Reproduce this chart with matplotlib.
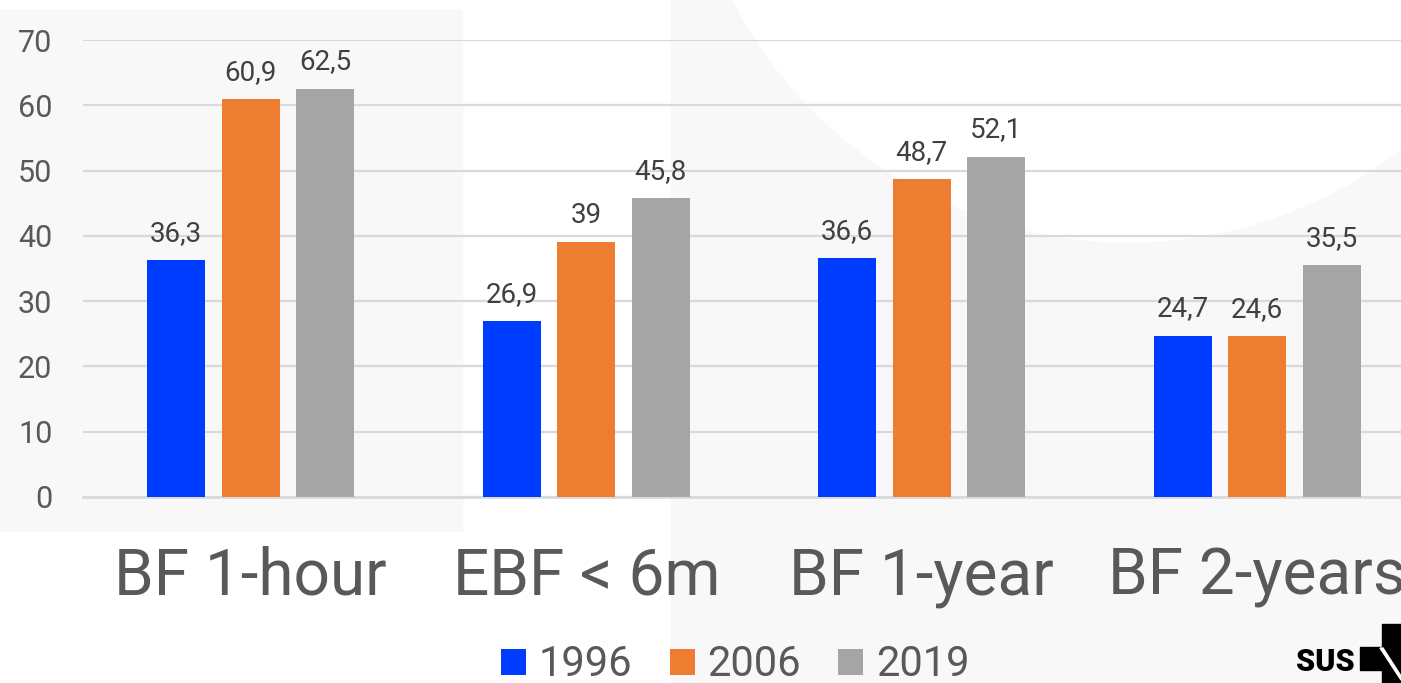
import matplotlib
matplotlib.use("Agg")
from matplotlib import pyplot as plt
from matplotlib.patches import Rectangle, Circle, Polygon
import numpy as np

categories = ['BF 1-hour', 'EBF < 6m', 'BF 1-year', 'BF 2-years']
years = ['1996', '2006', '2019']
values_1996 = [36.3, 26.9, 36.6, 24.7]
values_2006 = [60.9, 39.0, 48.7, 24.6]
values_2019 = [62.5, 45.8, 52.1, 35.5]
yticks = [0, 10, 20, 30, 40, 50, 60, 70]

colors = ['#003cff', '#ed7d31', '#a5a5a5']
series = [values_1996, values_2006, values_2019]

plt.rcParams['font.family'] = ['Roboto', 'DejaVu Sans']

W, H = 1401, 683
fig = plt.figure(figsize=(W / 100, H / 100), dpi=100)
fig.patch.set_facecolor('white')

# background decoration (pixel coords -> figure fraction)
def fx(px):
    return px / W

def fy(py):
    return 1 - py / H

bg = '#f8f8f8'
fig.patches.append(Rectangle((fx(0), fy(531)), fx(462), fy(10) - fy(531),
                             transform=fig.transFigure, color=bg, zorder=-10))
fig.patches.append(Rectangle((fx(671), 0), 1 - fx(671), 1,
                             transform=fig.transFigure, color=bg, zorder=-10))
# white circle (drawn in pixel space to stay round)
circ = Circle((1129, H - (-203)), 445, transform=None, color='white', zorder=-9)
fig.patches.append(circ)

ax = fig.add_axes([fx(83), fy(497), (1425 - 83) / W, fy(40) - fy(497)])
ax.set_facecolor('none')

x = np.arange(len(categories))
step = 0.222
width = 0.173
for i, (vals, col, yr) in enumerate(zip(series, colors, years)):
    pos = x + (i - 1) * step
    ax.bar(pos, vals, width, color=col, label=yr, zorder=3)
    for p, v in zip(pos, vals):
        txt = ('%g' % v).replace('.', ',')
        ax.annotate(txt, (p, v), xytext=(0, 14), textcoords='offset points',
                    ha='center', va='baseline', fontsize=20, color='#404040')

ax.set_xlim(-0.5, 3.5)
ax.set_ylim(0, 70)
ax.set_yticks(yticks)
ax.set_xticks(x)
ax.set_xticklabels(categories, fontsize=46, color='#595959')
ax.tick_params(axis='y', labelsize=22, labelcolor='#595959', length=0, pad=22)
ax.tick_params(axis='x', length=0, pad=35)
ax.grid(axis='y', color='#d9d9d9', linewidth=1.6, zorder=0)
for s in ['top', 'right', 'left']:
    ax.spines[s].set_visible(False)
ax.spines['bottom'].set_color('#d9d9d9')
ax.spines['bottom'].set_linewidth(2)
ax.spines['bottom'].set_zorder(2)

leg = fig.legend(loc='center', bbox_to_anchor=(fx(735), fy(665)), ncol=3,
                 frameon=False, fontsize=30, handlelength=0.6, handleheight=0.6,
                 handletextpad=0.3, columnspacing=0.9, labelcolor='#595959')

# SUS logo
fig.text(fx(1296), fy(671), 'SUS', fontsize=22, fontweight='black', color='black',
         ha='left', va='baseline', family=['Roboto', 'DejaVu Sans'])
fig.patches.append(Rectangle((fx(1382), 0), fx(W) - fx(1382), fy(624),
                             transform=fig.transFigure, color='black', zorder=5))
fig.patches.append(Rectangle((fx(1360), fy(670)), fx(W) - fx(1360), fy(647) - fy(670),
                             transform=fig.transFigure, color='black', zorder=5))
fig.patches.append(Polygon([(fx(1380), fy(648)), (fx(1383), fy(648)),
                            (fx(1401), fy(676)), (fx(1401), fy(680))],
                           closed=True, transform=fig.transFigure, color='white', zorder=6))

fig.savefig('out.png', dpi=100)
